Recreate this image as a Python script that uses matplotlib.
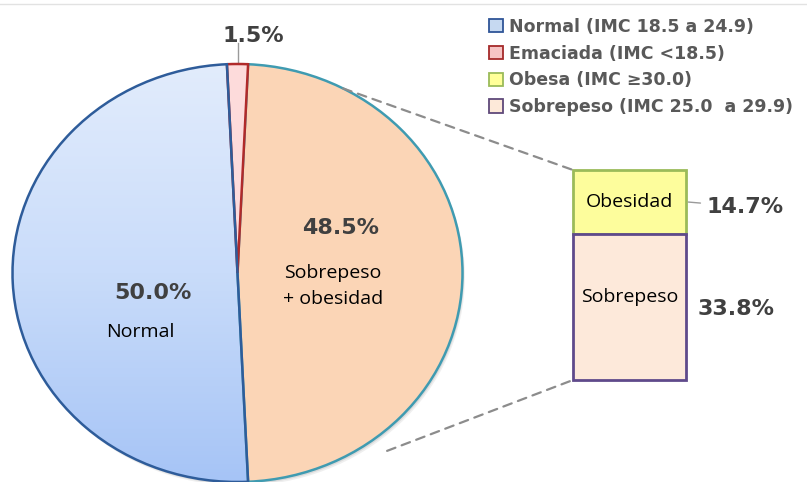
import numpy as np
import matplotlib
matplotlib.use("Agg")
import matplotlib.pyplot as plt
from matplotlib.patches import Patch, ConnectionPatch, Ellipse

# Pie data
pie_labels = ["Sobrepeso\n+ obesidad", "Emaciada", "Normal"]
pie_values = [48.5, 1.5, 50.0]
pie_colors = ["#fbd5b6", "#fddbdb", "none"]
pie_edges = ["#3f9bb1", "#b02a2a", "#2e5c9a"]

# Breakdown of the sobrepeso + obesidad slice
bar_labels = ["Sobrepeso", "Obesidad"]
bar_values = [33.8, 14.7]
bar_colors = ["#fde9da", "#fdfd9c"]
bar_edges = ["#5f4a8b", "#9bbb59"]

legend_labels = ["Normal (IMC 18.5 a 24.9)", "Emaciada (IMC <18.5)",
                 "Obesa (IMC \u226530.0)", "Sobrepeso (IMC 25.0  a 29.9)"]
legend_fill = ["#c6d9f1", "#f6c4c4", "#ffff99", "#fde9d9"]
legend_edge = ["#2f5597", "#a52a2a", "#9bbb59", "#5f497a"]

W, H = 807, 482
fig = plt.figure(figsize=(W / 100, H / 100), dpi=100)
plt.rcParams['font.family'] = ['Open Sans', 'DejaVu Sans']
txt_dark = "#404040"
pct_font = dict(family="DejaVu Sans", fontsize=16, fontweight="bold", color=txt_dark)
cat_size = 14

# background axes in pixel units
ax0 = fig.add_axes([0, 0, 1, 1])
ax0.set_xlim(0, W)
ax0.set_ylim(H, 0)
ax0.axis("off")
ax0.axhline(4, color="#e2e2e2", lw=1)

# pie (slightly elliptical, like the original)
cx, cy, rx, ry = 237.5, 273, 225, 209
axp = fig.add_axes([(cx - rx) / W, (H - cy - ry) / H, 2 * rx / W, 2 * ry / H])
wedges, _ = axp.pie(pie_values, startangle=272.7, counterclock=True, radius=1,
                    colors=pie_colors,
                    wedgeprops=dict(linewidth=1.8))
for w, ec in zip(wedges, pie_edges):
    w.set_edgecolor(ec)
    w.set_zorder(3)
axp.set_aspect("auto")
axp.set_xlim(-1, 1)
axp.set_ylim(-1, 1)
axp.axis("off")

# soft shadow below the pie
for off, a in [(0.018, 0.12), (0.011, 0.18)]:
    axp.add_patch(Ellipse((off * 0.6, -off), 2, 2, facecolor="#808080",
                          edgecolor="none", alpha=a, zorder=0, clip_on=False))

# gradient fill for the Normal slice
grad = np.linspace(0, 1, 256).reshape(-1, 1)
cmap = matplotlib.colors.LinearSegmentedColormap.from_list("n", ["#a6c4f6", "#c9dcfa", "#e2ecfc"])
im = axp.imshow(grad, extent=(-1, 1, -1, 1), origin="lower", cmap=cmap,
                aspect="auto", zorder=1)
im.set_clip_path(wedges[2])

# slice labels
axp.text(0.456, 0.215, f"{pie_values[0]:.1f}%", ha="center", va="center", **pct_font)
axp.text(0.424, -0.062, pie_labels[0], ha="center", va="center", fontsize=cat_size,
         linespacing=1.55, color="black")
axp.text(-0.376, -0.096, f"{pie_values[2]:.1f}%", ha="center", va="center", **pct_font)
axp.text(-0.433, -0.282, pie_labels[2], ha="center", va="center", fontsize=cat_size,
         color="black")
axp.text(0.069, 1.085, f"{pie_values[1]:.1f}%", ha="center", va="bottom",
         clip_on=False, **pct_font)
axp.plot([0, 0], [1.0, 1.1], color="#9a9a9a", lw=1, clip_on=False)

# stacked bar (sobrepeso on top in z so its purple edge forms the divider)
axb = fig.add_axes([573 / W, (H - 380) / H, 113 / W, 210 / H])
bottom = 0
for i, (v, c, e) in enumerate(zip(bar_values, bar_colors, bar_edges)):
    axb.bar(0, v, bottom=bottom, width=1, color=c, edgecolor=e, linewidth=2,
            clip_on=False, zorder=3 - i)
    bottom += v
axb.set_xlim(-0.5, 0.5)
axb.set_ylim(0, sum(bar_values))
axb.axis("off")
axb.text(0, 19.2, bar_labels[0], ha="center", va="center", fontsize=cat_size, zorder=5)
axb.text(0, 41.1, bar_labels[1], ha="center", va="center", fontsize=cat_size, zorder=5)
axb.text(0.606, 16.4, f"{bar_values[0]:.1f}%", ha="left", va="center",
         clip_on=False, **pct_font)
axb.annotate(f"{bar_values[1]:.1f}%", xy=(0.52, 41.1), xytext=(0.677, 40.0),
             ha="left", va="center", annotation_clip=False,
             arrowprops=dict(arrowstyle="-", color="#9a9a9a", lw=1,
                             shrinkA=2, shrinkB=0), **pct_font)

# dashed connectors from pie to bar
for ang, r, yb in [(62, 1.0, sum(bar_values)), (-52, 1.08, 0)]:
    t = np.deg2rad(ang)
    con = ConnectionPatch(xyA=(r * np.cos(t), r * np.sin(t)), coordsA=axp.transData,
                          xyB=(-0.5, yb), coordsB=axb.transData,
                          color="#8c8c8c", lw=1.6, linestyle=(0, (4, 3)))
    fig.add_artist(con)

# legend
handles = [Patch(facecolor=f, edgecolor=e, linewidth=1.3)
           for f, e in zip(legend_fill, legend_edge)]
leg = fig.legend(handles, legend_labels, loc="upper left",
                 bbox_to_anchor=(489 / W, 1 - 18 / H), frameon=False,
                 handlelength=0.78, handleheight=0.78, handletextpad=0.4,
                 labelspacing=0.5, borderaxespad=0, borderpad=0,
                 prop=dict(family="DejaVu Sans", size=12.5, weight="bold"))
for t in leg.get_texts():
    t.set_color("#595959")

fig.savefig("out.png", dpi=100)
